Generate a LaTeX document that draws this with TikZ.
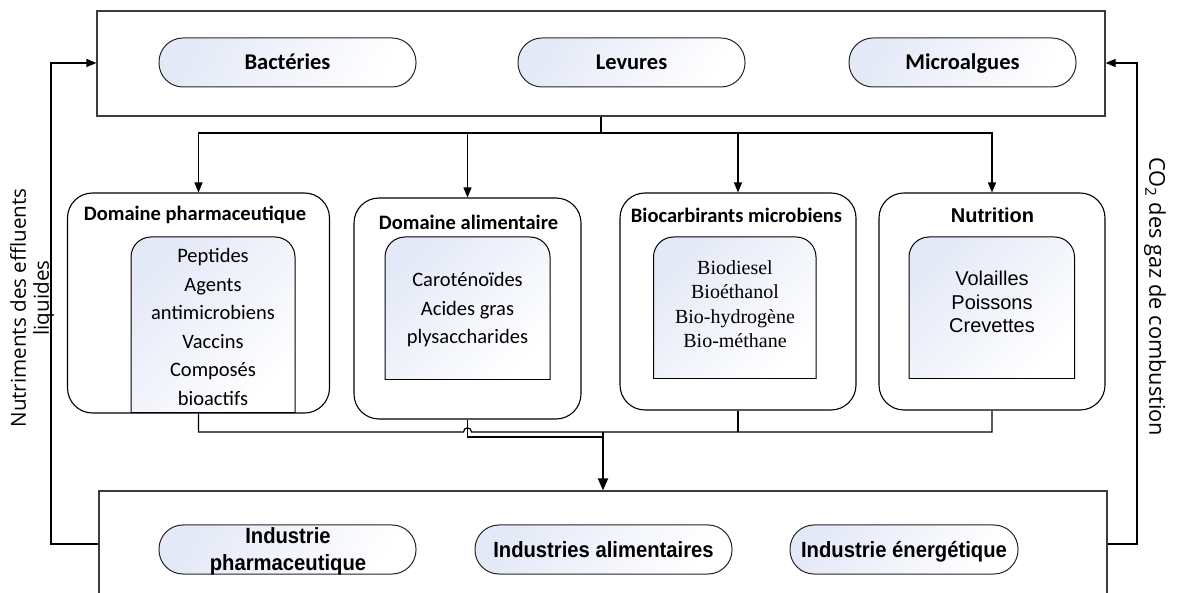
\documentclass[tikz,border=0pt]{standalone}
\usepackage{fontspec}
\setmainfont{Carlito}
\newfontfamily\calib{Carlito}
\newfontfamily\timesf{Liberation Serif}
\newfontfamily\arialf{Liberation Sans}
\newfontfamily\arialn[FakeStretch=0.92]{Liberation Sans}
\newfontfamily\opensans{Open Sans}
\usetikzlibrary{arrows.meta}
\definecolor{pillblue}{RGB}{228,233,247}
\definecolor{edgegray}{RGB}{60,60,60}
\newcommand\myinnerbox[4]{%
  \shade[left color=pillblue,right color=white,shading angle=45,rounded corners=20pt] (#1,#4) -- (#1,#2) -- (#3,#2) -- (#3,#4);
  \draw[line width=1pt,rounded corners=20pt] (#1,#4) -- (#1,#2) -- (#3,#2) -- (#3,#4);
  \draw[line width=1pt] (#1,#4) -- (#3,#4);}
\begin{document}
\begin{tikzpicture}[x=1pt,y=-1pt,
  bigbox/.style={draw=edgegray,line width=1.2pt,inner sep=0pt},
  pill/.style={draw=black!85,line width=1pt,rounded corners=24pt,minimum height=49pt,inner sep=0pt,
    left color=pillblue,right color=white,shading angle=60},
  toptext/.style={font=\calib\bfseries\fontsize{22.5}{27}\selectfont,text height=17pt,text depth=2.5pt},
  bottext/.style={font=\arialn\bfseries\fontsize{22}{27}\selectfont,align=center,inner sep=0pt},
  botone/.style={bottext,text height=18pt,text depth=2.2pt},
  outer/.style={draw=black,line width=1.1pt,rounded corners=25pt,inner sep=0pt},
  dtitle/.style={font=\calib\bfseries\fontsize{20.5}{24}\selectfont,inner sep=0pt},
  calist/.style={font=\calib\fontsize{20.5}{28.5}\selectfont,align=center,inner sep=0pt},
  tmlist/.style={font=\timesf\fontsize{20}{24.5}\selectfont,align=center,inner sep=0pt},
  arlist/.style={font=\arialf\fontsize{20}{23.5}\selectfont,align=center,inner sep=0pt},
  side/.style={align=center,inner sep=0pt},
  conn/.style={draw=black,line width=1.2pt},
  arr/.style={conn,-{Triangle[length=10pt,width=8pt]}},
  bigarr/.style={draw=black,line width=2pt,-{Triangle[length=12pt,width=10pt]}}]
\useasboundingbox (0,0) rectangle (1179,593);
\clip (0,0) rectangle (1179,593);

% top box and organisms
\node[bigbox,minimum width=1008pt,minimum height=105pt] (topbox) at (601,63.5) {};
\node[pill,toptext,minimum width=257pt] (bact) at (287.5,62.5) {Bactéries};
\node[pill,toptext,minimum width=227pt] (lev) at (631.5,62.5) {Levures};
\node[pill,toptext,minimum width=227pt] (micro) at (962.5,62.5) {Microalgues};

% domain boxes
\node[outer,minimum width=262pt,minimum height=220pt] (pharm) at (198.5,303) {};
\node[outer,minimum width=227pt,minimum height=221pt] (alim) at (467.5,308.5) {};
\node[outer,minimum width=236pt,minimum height=217pt] (bioc) at (738,301.5) {};
\node[outer,minimum width=226pt,minimum height=217pt] (nutr) at (992,301.5) {};

\myinnerbox{131}{237}{295}{413}
\myinnerbox{385}{237}{550}{380}
\myinnerbox{653.5}{237}{816}{379}
\myinnerbox{909}{237}{1074.5}{379}

\node[dtitle] (pharmT) at (195,215) {Domaine pharmaceutique};
\node[dtitle] (alimT) at (468.5,222) {Domaine alimentaire};
\node[dtitle] (biocT) at (736.5,215) {Biocarbirants microbiens};
\node[font=\arialf\bfseries\fontsize{20}{24}\selectfont,inner sep=0pt] (nutrT) at (992.5,215) {Nutrition};

\node[calist] (pharmL) at (213,327) {Peptides\\Agents\\antimicrobiens\\Vaccins\\Composés\\bioactifs};
\node[calist] (alimL) at (467.5,310) {Caroténoïdes\\Acides gras\\plysaccharides};
\node[tmlist] (biocL) at (735,304) {Biodiesel\\Bioéthanol\\Bio-hydrogène\\Bio-méthane};
\node[arlist] (nutrL) at (992,302) {Volailles\\Poissons\\Crevettes};

% distribution
\coordinate (split) at (601,133);
\draw[conn] (topbox.south) -- (split);
\draw[arr] (split) -| (pharm.north);
\draw[arr] (split) -| (alim.north);
\draw[arr] (split) -| (bioc.north);
\draw[arr] (split) -| (nutr.north);

% bottom box and industries
\node[bigbox,minimum width=1008pt,minimum height=150pt] (botbox) at (603,566) {};
\node[pill,minimum width=257pt] (ip) at (287.5,549.5) {};
\node[bottext] (ipT) at (288,551.5) {Industrie\\pharmaceutique};
\node[pill,botone,minimum width=257pt] (ia) at (603.5,549.5) {Industries alimentaires};
\node[pill,botone,minimum width=228pt] (ie) at (904,549.5) {Industrie énergétique};

% merging connectors
\coordinate (m) at (603,432);
\draw[conn] (pharm.south) |- (463.5,432) .. controls (463.5,426.5) and (471.5,426.5) .. (471.5,432) -- (nutr.south |- m) -- (nutr.south);
\draw[conn] (bioc.south) -- (bioc.south |- m);
\draw[conn] (alim.south) |- (603,437);
\draw[bigarr] (m) -- (botbox.north -| m);

% feedback loops
\coordinate (L1) at (51,544);
\coordinate (L2) at (51,63);
\coordinate (R1) at (1137,544);
\coordinate (R2) at (1137,63);
\draw[arr] (botbox.west |- L1) -- (L1) -- (L2) -- (topbox.west |- L2);
\draw[arr] (botbox.east |- R1) -- (R1) -- (R2) -- (topbox.east |- R2);

\node[side,font=\opensans\fontsize{20.6}{23}\selectfont,rotate=90] (nutriL) at (32,308) {Nutriments des effluents\\\hspace*{20pt}liquides};
\node[side,font=\opensans\fontsize{21.8}{25}\selectfont,rotate=-90] (co2L) at (1155,297) {CO\textsubscript{2} des gaz de combustion};
\end{tikzpicture}
\end{document}
